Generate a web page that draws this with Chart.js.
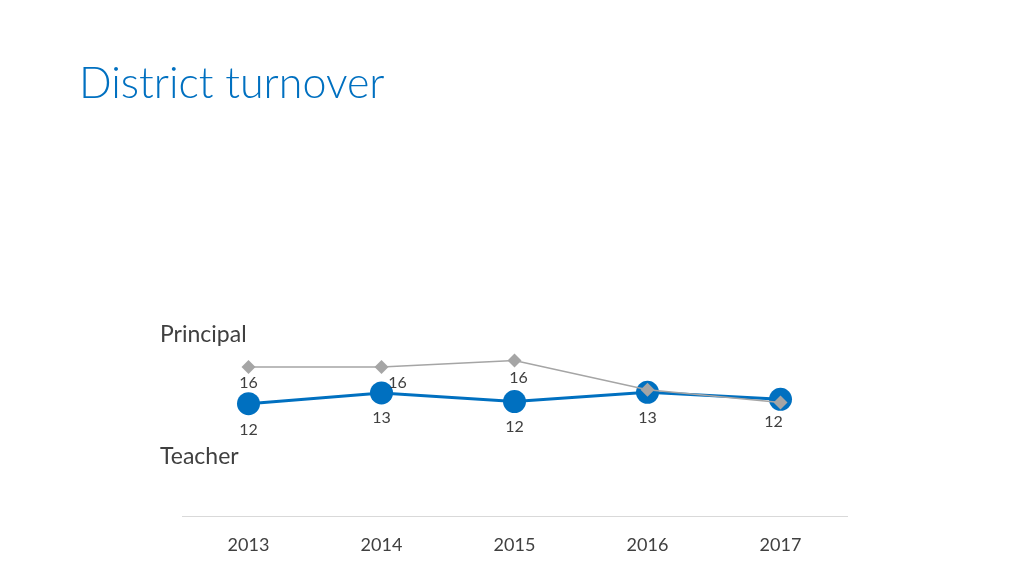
<!DOCTYPE html>
<html><head><meta charset="utf-8">
<script src="https://cdn.jsdelivr.net/npm/chart.js@4"></script>
<style>
html,body{margin:0;padding:0;background:#fff;width:1024px;height:576px;overflow:hidden;}
#wrap{position:absolute;left:0;top:0;width:1024px;height:576px;}
.t{position:absolute;font-family:Lato,"Open Sans",sans-serif;white-space:nowrap;}
#title{left:79px;top:56px;font-size:43px;font-weight:300;color:#0070C0;}
#pl{left:160px;top:319px;font-size:23px;color:#404040;}
#tl{left:160px;top:441px;font-size:23px;color:#404040;}
</style></head>
<body>
<div id="wrap"><canvas id="c" width="1024" height="576"></canvas></div>
<div class="t" id="title">District turnover</div>
<div class="t" id="pl">Principal</div>
<div class="t" id="tl">Teacher</div>
<script>
const years = ['2013','2014','2015','2016','2017'];
const principalValues = [15.4, 15.4, 16.0, 13.3, 12.1];
const teacherValues = [12.0, 13.0, 12.2, 13.05, 12.4];
const principalLabels = ['16','16','16','',''];
const teacherLabels = ['12','13','12','13','12'];

const labelPlugin = {
  id: 'pointLabels',
  afterDatasetsDraw(chart) {
    const ctx = chart.ctx;
    const cfg = [
      {ds: 0, texts: principalLabels, off: [[0,16],[16,16],[4,17],[0,16],[0,16]]},
      {ds: 1, texts: teacherLabels, off: [[0,26],[0,25],[0,25],[0,26],[-7,22]]}
    ];
    ctx.save();
    ctx.font = '16px Lato, "Open Sans", sans-serif';
    ctx.fillStyle = '#404040';
    ctx.textAlign = 'center';
    ctx.textBaseline = 'middle';
    cfg.forEach(c => {
      const meta = chart.getDatasetMeta(c.ds);
      meta.data.forEach((pt, i) => {
        const s = c.texts[i];
        if (!s) return;
        ctx.fillText(s, pt.x + c.off[i][0], pt.y + c.off[i][1]);
      });
    });
    ctx.restore();
  }
};

new Chart(document.getElementById('c'), {
  type: 'line',
  data: {
    labels: years,
    datasets: [
      {
        label: 'Principal',
        data: principalValues,
        borderColor: '#A5A5A5',
        backgroundColor: '#A5A5A5',
        borderWidth: 1.5,
        pointStyle: 'rectRot',
        pointRadius: 7,
        pointBorderWidth: 0,
        tension: 0,
        order: 0
      },
      {
        label: 'Teacher',
        data: teacherValues,
        borderColor: '#0070C0',
        backgroundColor: '#0070C0',
        borderWidth: 3,
        pointStyle: 'circle',
        pointRadius: 11.5,
        pointBorderWidth: 0,
        tension: 0,
        order: 1
      }
    ]
  },
  options: {
    responsive: false,
    animation: false,
    devicePixelRatio: 1,
    layout: {padding: {left: 182, right: 177, top: 300, bottom: 0}},
    plugins: {legend: {display: false}, tooltip: {enabled: false}, title: {display: false}},
    scales: {
      x: {
        offset: true,
        grid: {display: false, drawTicks: false},
        border: {display: true, color: '#D9D9D9', width: 1},
        ticks: {color: '#404040', font: {family: 'Lato, "Open Sans", sans-serif', size: 18}, padding: 18},
        afterFit: s => { s.height = 60; }
      },
      y: {
        display: false,
        min: 1.6,
        max: 21.6
      }
    }
  },
  plugins: [labelPlugin]
});
</script>
</body></html>
